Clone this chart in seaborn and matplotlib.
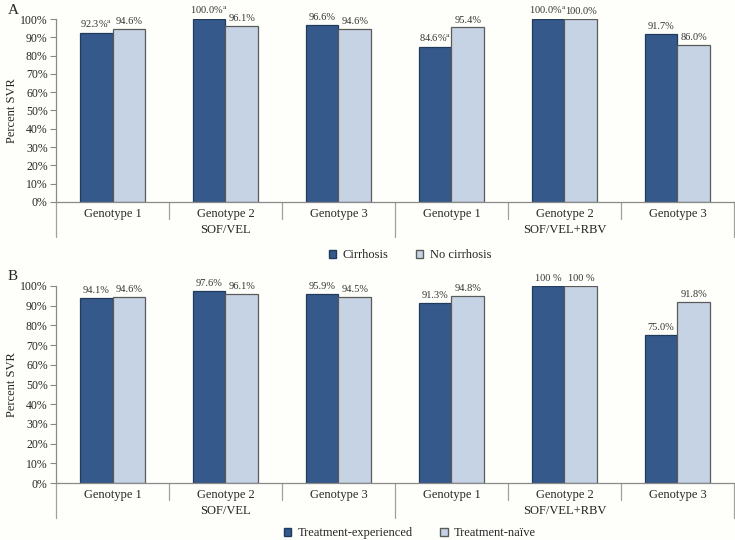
import pandas as pd
import matplotlib.pyplot as plt
import seaborn as sns
import matplotlib.patches as mpatches

# === Data ===
genotypes = ["Genotype 1", "Genotype 2", "Genotype 3"]
regimens = ["SOF/VEL", "SOF/VEL+RBV"]

cirrhosis = [92.3, 100.0, 96.6, 84.6, 100.0, 91.7]
no_cirrhosis = [94.6, 96.1, 94.6, 95.4, 100.0, 86.0]
cirrhosis_labels = ["92.3%$^{\\rm a}$", "100.0%$^{\\rm a}$", "96.6%",
                    "84.6%$^{\\rm a}$", "100.0%$^{\\rm a}$", "91.7%"]
no_cirrhosis_labels = ["94.6%", "96.1%", "94.6%", "95.4%", "100.0%", "86.0%"]

experienced = [94.1, 97.6, 95.9, 91.3, 100.0, 75.0]
naive = [94.6, 96.1, 94.5, 94.8, 100.0, 91.8]
experienced_labels = ["94.1%", "97.6%", "95.9%", "91.3%", "100 %", "75.0%"]
naive_labels = ["94.6%", "96.1%", "94.5%", "94.8%", "100 %", "91.8%"]

DARK = "#35598b"
LIGHT = "#c6d3e5"
BG = "#fefefa"

sns.set_theme(style="white")
plt.rcParams["font.family"] = ["Liberation Serif", "DejaVu Serif"]
plt.rcParams["mathtext.fontset"] = "stix"

categories = [f"{r} {g}" for r in regimens for g in genotypes]
W, H = 735, 540


def make_df(a, b, name_a, name_b):
    rows = []
    for cat, va, vb in zip(categories, a, b):
        rows.append({"cat": cat, "val": va / 100, "group": name_a})
        rows.append({"cat": cat, "val": vb / 100, "group": name_b})
    return pd.DataFrame(rows)


def draw_panel(ax, df, labels_a, labels_b):
    sns.barplot(data=df, x="cat", y="val", hue="group", order=categories,
                palette=[DARK, LIGHT], width=0.58, gap=0, ax=ax,
                legend=False, saturation=1)
    edge_cols = ["#223a5e", "#5a5a5a"]
    for cont, ec, labs in zip(ax.containers, edge_cols, [labels_a, labels_b]):
        for p in cont:
            p.set_edgecolor(ec)
            p.set_linewidth(0.9)
        ax.bar_label(cont, labels=labs, padding=2, fontsize=7.5, color="#333333")

    ax.set_facecolor(BG)
    ax.set_ylim(0, 1.0)
    ax.set_xlim(-0.5, 5.5)
    ax.set_yticks([i / 10 for i in range(11)])
    ax.set_yticklabels([f"{i * 10}%" for i in range(11)], fontsize=8.5)
    ax.set_xticks(range(6))
    ax.set_xticklabels(genotypes * 2, fontsize=9)
    ax.tick_params(axis="x", length=0, pad=4)
    ax.tick_params(axis="y", length=4, width=0.8, color="#888888", pad=2, left=True)
    ax.set_xlabel("")
    ax.set_ylabel("Percent SVR", fontsize=9)
    w_px = ax.get_position().width * W
    ax.yaxis.set_label_coords(-(56 - 18) / w_px, 0.5)
    for s in ["top", "right"]:
        ax.spines[s].set_visible(False)
    for s in ["left", "bottom"]:
        ax.spines[s].set_color("#8a8a8a")
        ax.spines[s].set_linewidth(0.9)

    # separator lines below the axis
    h_px = ax.get_position().height * H
    short = 17 / h_px
    long = 35 / h_px
    trans = ax.get_xaxis_transform()
    for x in [0.5, 1.5, 3.5, 4.5]:
        ax.plot([x, x], [0, -short], color="#a0a0a0", lw=0.9,
                transform=trans, clip_on=False)
    for x in [-0.5, 2.5, 5.5]:
        ax.plot([x, x], [0, -long], color="#a0a0a0", lw=0.9,
                transform=trans, clip_on=False)
    for i, r in enumerate(regimens):
        ax.text(1 + 3 * i, -28 / h_px, r, transform=trans, ha="center",
                va="center", fontsize=9, color="#222222")


fig = plt.figure(figsize=(7.35, 5.4), dpi=100, facecolor=BG)
axA = fig.add_axes([56 / W, 1 - 202 / H, (734 - 56) / W, (202 - 19) / H])
axB = fig.add_axes([56 / W, 1 - 483 / H, (734 - 56) / W, (483 - 286) / H])

dfA = make_df(cirrhosis, no_cirrhosis, "Cirrhosis", "No cirrhosis")
dfB = make_df(experienced, naive, "Treatment-experienced", "Treatment-naïve")
draw_panel(axA, dfA, cirrhosis_labels, no_cirrhosis_labels)
draw_panel(axB, dfB, experienced_labels, naive_labels)

fig.text(8 / W, 1 - 10 / H, "A", fontsize=11, va="center", ha="left")
fig.text(8 / W, 1 - 277 / H, "B", fontsize=11, va="center", ha="left")

for names, ypx in [(["Cirrhosis", "No cirrhosis"], 255),
                   (["Treatment-experienced", "Treatment-naïve"], 533)]:
    handles = [mpatches.Patch(facecolor=DARK, edgecolor="#223a5e", label=names[0]),
               mpatches.Patch(facecolor=LIGHT, edgecolor="#5a5a5a", label=names[1])]
    fig.legend(handles=handles, loc="center", bbox_to_anchor=(410 / W, 1 - ypx / H),
               ncol=2, frameon=False, fontsize=9, handlelength=0.6,
               handleheight=0.6, handletextpad=0.5, columnspacing=2.2)

fig.savefig("out.png", dpi=100, facecolor=BG)
